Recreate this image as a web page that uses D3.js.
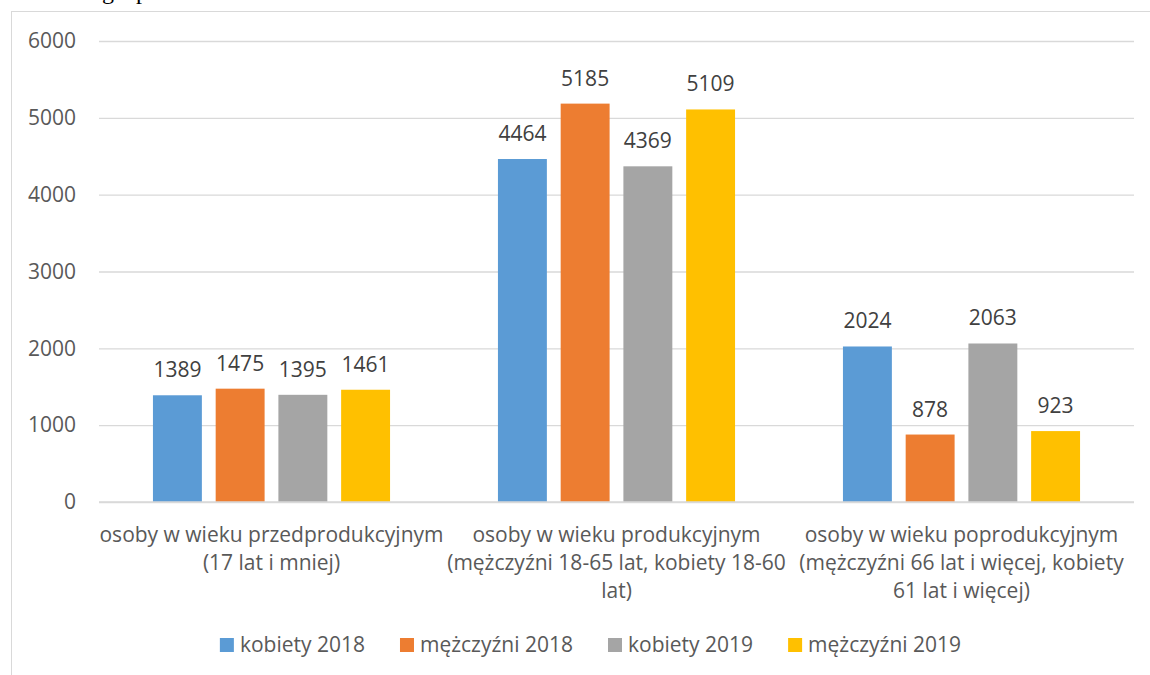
<!DOCTYPE html>
<html><head><meta charset="utf-8">
<script src="https://cdn.jsdelivr.net/npm/d3@7"></script>
<style>
html,body{margin:0;padding:0;background:#fff;overflow:hidden}
svg{display:block}
</style></head>
<body>
<svg id="chart" width="1150" height="675"></svg>
<script>
const categories = [
  ["osoby w wieku przedprodukcyjnym", "(17 lat i mniej)"],
  ["osoby w wieku produkcyjnym", "(mężczyźni 18-65 lat, kobiety 18-60", "lat)"],
  ["osoby w wieku poprodukcyjnym", "(mężczyźni 66 lat i więcej, kobiety", "61 lat i więcej)"]
];
const seriesNames = ["kobiety 2018", "mężczyźni 2018", "kobiety 2019", "mężczyźni 2019"];
const kobiety2018 = [1389, 4464, 2024];
const mezczyzni2018 = [1475, 5185, 878];
const kobiety2019 = [1395, 4369, 2063];
const mezczyzni2019 = [1461, 5109, 923];
const seriesValues = [kobiety2018, mezczyzni2018, kobiety2019, mezczyzni2019];
const yTicks = [0, 1000, 2000, 3000, 4000, 5000, 6000];
const colors = ["#5B9BD5", "#ED7D31", "#A5A5A5", "#FFC000"];

(function () {
const svg = d3.select("#chart");
const font = "'Open Sans', sans-serif";
const fs = 21;
const textColor = "#595959";

// clipped caption above chart
const cap = svg.append("text").attr("y", -1)
  .attr("font-family", "'Liberation Serif', serif").attr("font-size", 24).attr("fill", "#000");
cap.append("tspan").attr("x", 102).text("g");
cap.append("tspan").attr("x", 136).text("p");

// chart border
svg.append("rect").attr("x", 11.5).attr("y", 11.5).attr("width", 1160).attr("height", 700)
  .attr("fill", "none").attr("stroke", "#D9D9D9").attr("stroke-width", 1);

const mLeft = 99, mRight = 1134, mTop = 41, mBottom = 502;
const y = d3.scaleLinear().domain([0, 6000]).range([mBottom, mTop]);
const x0 = d3.scaleBand().domain(d3.range(categories.length)).range([mLeft, mRight]).padding(0);
const x1 = d3.scaleBand().domain(d3.range(seriesNames.length)).range([0, x0.bandwidth()])
  .paddingInner(0.22).paddingOuter(0.86);

// gridlines
const yAxis = d3.axisLeft(y).tickValues(yTicks).tickFormat(d3.format("d"))
  .tickSize(-(mRight - mLeft)).tickPadding(23);
const gy = svg.append("g").attr("transform", `translate(${mLeft},0)`).call(yAxis);
gy.select(".domain").remove();
gy.selectAll(".tick line").attr("stroke", "#D9D9D9").attr("stroke-width", 1.3);
gy.selectAll(".tick text").attr("font-family", font).attr("font-size", fs).attr("fill", textColor);

// bars
const groups = svg.append("g").selectAll("g").data(categories).join("g")
  .attr("transform", (d, i) => `translate(${x0(i)},0)`);
groups.each(function(_, ci) {
  const g = d3.select(this);
  seriesValues.forEach((vals, si) => {
    g.append("rect").attr("x", x1(si)).attr("width", x1.bandwidth())
      .attr("y", y(vals[ci])).attr("height", y(0) - y(vals[ci]))
      .attr("fill", colors[si]);
    g.append("text").attr("x", x1(si) + x1.bandwidth() / 2).attr("y", y(vals[ci]) - 18)
      .attr("text-anchor", "middle").attr("font-family", font).attr("font-size", fs)
      .attr("fill", "#404040").text(vals[ci]);
  });
});

svg.append("line").attr("x1", mLeft).attr("x2", mRight).attr("y1", y(0)).attr("y2", y(0))
  .attr("stroke", "#D9D9D9").attr("stroke-width", 1.3);

// category labels
categories.forEach((lines, ci) => {
  const t = svg.append("text").attr("text-anchor", "middle").attr("font-family", font)
    .attr("font-size", fs).attr("fill", textColor);
  lines.forEach((ln, li) => {
    t.append("tspan").attr("x", x0(ci) + x0.bandwidth() / 2).attr("y", 542 + li * 28).text(ln);
  });
});

// legend (measured, centred)
const lg = svg.append("g");
const items = seriesNames.map((name, i) => {
  const g = lg.append("g");
  g.append("rect").attr("x", 0).attr("y", 638).attr("width", 14).attr("height", 14).attr("fill", colors[i]);
  const t = g.append("text").attr("x", 20).attr("y", 652).attr("font-family", font)
    .attr("font-size", fs).attr("fill", textColor).text(name);
  return { g, w: 20 + t.node().getComputedTextLength() };
});
const gap = 35;
const total = d3.sum(items, d => d.w) + gap * (items.length - 1);
let cx = 590.5 - total / 2;
items.forEach(it => { it.g.attr("transform", `translate(${cx},0)`); cx += it.w + gap; });
})();
</script>
</body></html>
